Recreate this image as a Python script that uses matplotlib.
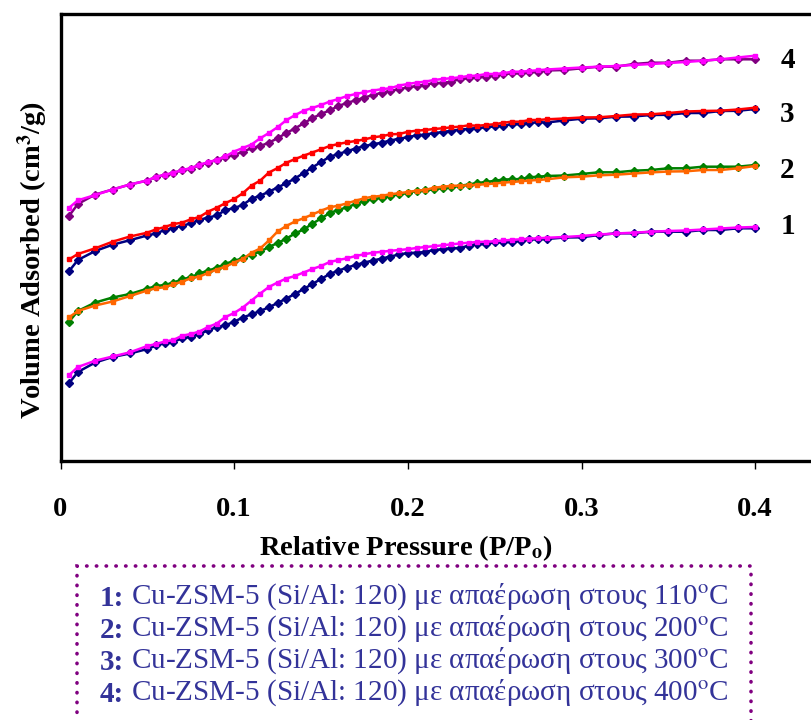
import matplotlib
matplotlib.use("Agg")
import matplotlib.pyplot as plt
from matplotlib.patches import Rectangle

plt.rcParams['font.family'] = ['Liberation Serif', 'DejaVu Serif']
plt.rcParams['mathtext.fontset'] = 'stix'

# Relative pressure grid (P/Po)
P = [0.005, 0.01, 0.02, 0.03, 0.04,
     0.05, 0.055, 0.06, 0.065, 0.07, 0.075, 0.08, 0.085, 0.09, 0.095,
     0.10, 0.105, 0.11, 0.115, 0.12, 0.125, 0.13, 0.135, 0.14, 0.145,
     0.15, 0.155, 0.16, 0.165, 0.17, 0.175, 0.18, 0.185, 0.19, 0.195,
     0.20, 0.205, 0.21, 0.215, 0.22, 0.225, 0.23, 0.235, 0.24, 0.245,
     0.25, 0.255, 0.26, 0.265, 0.27, 0.275, 0.28,
     0.29, 0.30, 0.31, 0.32, 0.33, 0.34, 0.35, 0.36, 0.37, 0.38, 0.39, 0.40]

# Volume adsorbed (arbitrary, curves are offset) - adsorption / desorption branches
ads1 = [78, 89, 98.5, 104, 107.5,
        112, 115.5, 117.7, 119.3, 122.5, 124.3, 126.5, 131, 133.7, 135.7,
        139.3, 143.5, 146.7, 150, 153.7, 158, 162.5, 167, 172, 177,
        182, 187, 190.3, 193.5, 196, 198.5, 200.5, 202.5, 204.5, 206.5,
        208, 208.3, 209, 211, 211.7, 212.7, 213, 215.3, 216.7, 217,
        218.7, 219.3, 218.7, 220.3, 221.7, 221.8, 222,
        223.5, 223.7, 226, 227.7, 227.7, 229.3, 229.3, 229.3, 231, 231, 232.7, 232.7]
des1 = [86, 94, 100.3, 104.5, 108.7,
        115, 117, 119.5, 121, 125.3, 127, 129.5, 134, 137.5, 144,
        148, 153.5, 160.5, 167.5, 174, 178.5, 182.5, 185, 188.5, 192,
        195, 199, 201, 202.7, 205, 206.8, 208.3, 209.2, 210.2, 211,
        211.8, 213, 214, 214.8, 215.7, 216.7, 217.5, 218.3, 219, 219.3,
        219.7, 220.5, 221.2, 221.7, 222.3, 222.7, 223.2,
        224, 225, 226.5, 227.5, 228.3, 229.3, 230, 230.5, 231.5, 232.5, 233.5, 234]

ads2 = [139.5, 150, 158.5, 163.5, 167,
        172.3, 175, 176, 178.3, 181.7, 183.7, 187.7, 190.3, 193.3, 197.3,
        200, 203, 206.2, 209.5, 214, 218, 222.3, 227.5, 231.5, 237.3,
        242.5, 248, 251, 253.8, 257, 259.8, 261.7, 263.4, 265, 266.7,
        268.2, 270, 270.8, 271.7, 273, 274.1, 275.2, 276.5, 278, 279,
        280.2, 281.5, 281.7, 282, 283.7, 284.3, 285,
        285.5, 287, 288.7, 288.7, 290.3, 291, 292.7, 292.7, 294.3, 294.3, 294.3, 296]
des2 = [143.7, 150, 155.5, 159.5, 165,
        170.5, 172.8, 173.7, 176.7, 179.3, 182.7, 184.5, 188, 191.5, 194.3,
        198.5, 202, 208.3, 212.5, 220.5, 229.5, 235, 239.5, 242.8, 246.5,
        250.3, 253.7, 255.3, 257.7, 260.3, 262.8, 264.3, 265.2, 266.8, 267.8,
        269, 270.3, 271, 273.3, 274.2, 275.2, 275.3, 275.6, 276.2, 276.8,
        277.5, 278.4, 279, 279.7, 280.5, 281, 281.7,
        283.7, 284.3, 285.7, 286.3, 287.5, 288.6, 289.5, 289.7, 291, 291, 292.7, 295]

ads3 = [190, 201, 210, 216.3, 220.8,
        225.6, 227.5, 231, 232.7, 235.3, 237.5, 241.2, 243.4, 245.5, 251,
        252.8, 256.2, 262.2, 265.3, 269.3, 273.5, 277.8, 282.5, 288, 293.5,
        299, 304.2, 307, 309.8, 312.5, 315, 316.7, 318.4, 320.5, 322.3,
        323.8, 325.6, 326.5, 327.8, 329, 330.1, 331.4, 332.1, 333, 333.6,
        334.7, 335.5, 336.6, 337, 338, 338.8, 338.5,
        340.5, 342.3, 342.7, 344.3, 344.5, 346, 346.2, 348, 348, 350, 350.2, 352]
des3 = [201.7, 207, 212.7, 219.3, 224.5,
        228.3, 231.7, 233.9, 237, 238.3, 241.7, 244, 249.4, 253.3, 257.9,
        262, 267.8, 275.5, 280.4, 288.5, 292.9, 298.2, 301.9, 305.3, 308.5,
        311.7, 315, 317, 318.7, 320, 321.6, 323.7, 324.8, 326.7, 327,
        329.2, 330.3, 331, 332, 332.7, 333.7, 334.3, 335.7, 335.2, 336,
        336.8, 338.3, 339.3, 339.3, 341, 341, 341.7,
        342.5, 343.5, 343.7, 345, 346.5, 346.7, 348, 349.5, 350, 350.3, 351.5, 353.3]

ads4 = [245.3, 257, 266.5, 271.5, 276.5,
        280.5, 284, 286, 287.7, 291, 292.5, 296, 298.4, 301, 303.7,
        306, 309.3, 312.8, 315, 318.3, 322.8, 328, 332.5, 337.7, 342.8,
        347, 350.6, 355, 358.1, 360.7, 363.5, 366, 368.3, 370, 371.8,
        373.6, 375, 376.5, 377.7, 378.3, 379.3, 382, 382.7, 383.7, 384.3,
        385.3, 386.7, 387.7, 387.7, 388.7, 389.3, 390.5,
        391, 392.7, 394.3, 394.3, 397, 398.3, 398.3, 400.3, 400.3, 401.7, 401.7, 401.7]
des4 = [253.3, 260.7, 266, 271.5, 276.5,
        280.5, 284.3, 286.2, 288.3, 291, 292.7, 296.2, 298.8, 301.2, 304.6,
        309.5, 313, 316.5, 322.7, 328, 333.8, 340.8, 345.8, 350.3, 353,
        356, 359.4, 362, 365, 367, 368.8, 370.5, 371.8, 372.8, 375.5,
        377, 378.4, 379.4, 381, 382, 382.8, 383.7, 385, 385.4, 387,
        387, 387.8, 389.3, 389.3, 390, 390.8, 391.5,
        392.5, 393.5, 394.3, 395, 396, 397, 398, 399, 400.3, 401.7, 403.5, 405.3]

curve_labels = ['1', '2', '3', '4']
xticks = [0, 0.1, 0.2, 0.3, 0.4]
xtick_labels = ['0', '0.1', '0.2', '0.3', '0.4']
legend_temps = ['110', '200', '300', '400']

W, H = 811, 720
fig = plt.figure(figsize=(W / 100, H / 100), dpi=100)
fig.patch.set_facecolor('white')

left_px, right_px, top_px, bot_px = 60.5, 842.0, 14.0, 461.0
ax = fig.add_axes([left_px / W, 1 - bot_px / H, (right_px - left_px) / W, (bot_px - top_px) / H])
ax.set_xlim(0, 0.45)
ax.set_ylim(0, 447)

pairs = [(ads1, des1, '#000080', '#FF00FF'),
         (ads2, des2, '#008000', '#FF6600'),
         (ads3, des3, '#000080', '#FF0000'),
         (ads4, des4, '#800080', '#FF00FF')]
for a, d, ca, cd in pairs:
    ax.plot(P, a, color=ca, lw=1.8, marker='D', ms=3.6, mec=ca, mfc=ca, zorder=3)
    ax.plot(P, d, color=cd, lw=1.8, marker='s', ms=3.0, mec=cd, mfc=cd, zorder=4)

label_pos = [(0.4186, 235), (0.4186, 291), (0.4186, 346), (0.4186, 401)]
for lab, (lx, ly) in zip(curve_labels, label_pos):
    ax.text(lx, ly, lab, fontsize=21, fontweight='bold', ha='center', va='center',
            clip_on=False)

for side in ['left', 'top', 'bottom']:
    ax.spines[side].set_linewidth(2.4)
    ax.spines[side].set_color('black')
ax.spines['right'].set_visible(False)
ax.set_yticks([])
ax.set_xticks(xticks)
ax.set_xticklabels(xtick_labels, fontsize=20.5, fontweight='bold')
ax.tick_params(axis='x', direction='out', length=6, width=1, pad=20)

fig.text(406 / W, 1 - 548 / H, r'Relative Pressure (P/P$_{\mathbf{o}}$)', fontsize=20.5,
         fontweight='bold', ha='center', va='center')
fig.text(33 / W, 1 - 260 / H, r'Volume Adsorbed (cm$^{\mathbf{3}}$/g)', fontsize=20.5,
         fontweight='bold', ha='center', va='center', rotation=90)

# legend box with dotted border
box = Rectangle((77 / W, -0.05), (751 - 77) / W, 0.05 + 1 - 566 / H, transform=fig.transFigure,
                fill=False, edgecolor='#800080', lw=2.6, linestyle=(0, (0.1, 2.6)),
                capstyle='round')
fig.patches.append(box)

txt_color = '#333399'
line_y = [598, 631, 663, 695]
for lab, temp, yy in zip(curve_labels, legend_temps, line_y):
    t1 = fig.text(100 / W, 1 - yy / H, lab + ':', fontsize=21, fontweight='bold',
                  color=txt_color, ha='left', va='center')
    fig.add_artist(plt.Annotation(' Cu-ZSM-5 (Si/Al: 120) με απαέρωση στους ' + temp + r'$^{\mathrm{o}}$C',
                                  xy=(1, 0), xycoords=t1, xytext=(1, 0), textcoords=t1,
                                  fontsize=21, color=txt_color, ha='left', va='bottom'))

fig.savefig('out.png', dpi=100, facecolor='white')
